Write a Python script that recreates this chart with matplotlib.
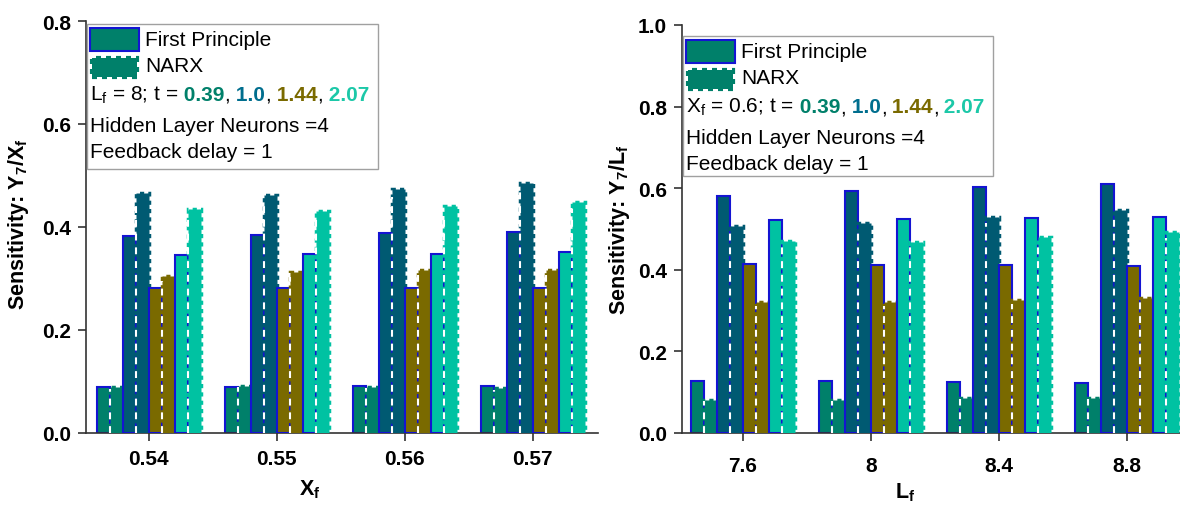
import matplotlib
matplotlib.use("Agg")
import matplotlib.pyplot as plt
import numpy as np
from matplotlib.patches import Rectangle

plt.rcParams['font.family'] = ['Liberation Sans', 'DejaVu Sans']
plt.rcParams['mathtext.fontset'] = 'custom'
plt.rcParams['mathtext.rm'] = 'Liberation Sans'
plt.rcParams['mathtext.it'] = 'Liberation Sans:italic'
plt.rcParams['mathtext.bf'] = 'Liberation Sans:bold'

# data
t_labels = ["0.39", "1.0", "1.44", "2.07"]
bar_colors = ["#00806A", "#005A72", "#7A6A00", "#00C2A2"]
text_colors = ["#00806A", "#006E8E", "#7A6A00", "#1CC8A8"]

xf_cats = ["0.54", "0.55", "0.56", "0.57"]
fp_xf = [[0.090, 0.090, 0.092, 0.091],
         [0.382, 0.385, 0.389, 0.391],
         [0.282, 0.282, 0.282, 0.282],
         [0.346, 0.347, 0.348, 0.351]]
narx_xf = [[0.089, 0.092, 0.090, 0.087],
           [0.466, 0.462, 0.473, 0.486],
           [0.304, 0.313, 0.316, 0.317],
           [0.434, 0.432, 0.440, 0.448]]

lf_cats = ["7.6", "8", "8.4", "8.8"]
fp_lf = [[0.128, 0.127, 0.125, 0.123],
         [0.582, 0.593, 0.602, 0.611],
         [0.414, 0.412, 0.411, 0.409],
         [0.521, 0.524, 0.526, 0.529]]
narx_lf = [[0.081, 0.082, 0.085, 0.085],
           [0.508, 0.514, 0.530, 0.547],
           [0.322, 0.321, 0.325, 0.330],
           [0.470, 0.469, 0.481, 0.492]]

W, H = 1180, 506
EDGE_BLUE = "#1414D2"
FS = 15

fig = plt.figure(figsize=(W / 100, H / 100), dpi=100)
ax1 = fig.add_axes([86 / W, 72 / H, 512 / W, 412 / H])
ax2 = fig.add_axes([682 / W, 72 / H, 498 / W, 408 / H])


def draw_bars(ax, cats, fp, narx):
    w = 0.1015
    x = np.arange(len(cats))
    for i in range(4):
        c = bar_colors[i]
        xfp = x + (2 * i - 3.5) * w
        xn = x + (2 * i + 1 - 3.5) * w
        ax.bar(xfp, fp[i], width=w, color=c, edgecolor=EDGE_BLUE,
               linewidth=1.5, zorder=2 + 2 * i)
        ax.bar(xn, narx[i], width=w, color=c, edgecolor=c, linewidth=2.5,
               linestyle=(0, (1.2, 1.2)), zorder=3 + 2 * i)
        ax.vlines(xn - w / 2, 0, np.array(narx[i]) * 0.97, colors="white",
                  linestyles=(0, (3.3, 3.3)), linewidth=1.5, zorder=3 + 2 * i)
    ax.set_xticks(x)
    ax.set_xticklabels(cats, fontsize=FS, fontweight="bold")


def style_axes(ax, ymax, xlim):
    ax.set_ylim(0, ymax)
    ax.set_xlim(*xlim)
    yt = np.arange(0, ymax + 0.01, 0.2)
    ax.set_yticks(yt)
    ax.set_yticklabels(["%.1f" % v for v in yt], fontsize=FS, fontweight="bold")
    for s in ["top", "right"]:
        ax.spines[s].set_visible(False)
    for s in ["left", "bottom"]:
        ax.spines[s].set_color("#333333")
        ax.spines[s].set_linewidth(1.2)
    ax.tick_params(axis="y", direction="out", length=6, width=1.2, pad=5, colors="#333333")
    ax.tick_params(axis="x", direction="out", length=5.5, width=1.2, colors="#333333")
    for lab in ax.get_xticklabels() + ax.get_yticklabels():
        lab.set_color("black")


draw_bars(ax1, xf_cats, fp_xf, narx_xf)
draw_bars(ax2, lf_cats, fp_lf, narx_lf)
style_axes(ax1, 0.8, (-0.49, 3.51))
style_axes(ax2, 1.0, (-0.477, 3.414))
ax1.tick_params(axis="x", pad=6)
ax2.tick_params(axis="x", pad=11)

ax1.set_ylabel(r"Sensitivity: Y$_\mathbf{7}$/X$_\mathbf{f}$", fontsize=15.5, fontweight="bold")
ax1.yaxis.set_label_coords(-0.108, 0.51)
ax2.set_ylabel(r"Sensitivity: Y$_\mathbf{7}$/L$_\mathbf{f}$", fontsize=15.5, fontweight="bold")
ax2.yaxis.set_label_coords(-0.100, 0.5)
ax1.set_xlabel(r"X$_\mathbf{f}$", fontsize=15.5, fontweight="bold")
ax1.xaxis.set_label_coords(0.4375, -0.107)
ax2.set_xlabel(r"L$_\mathbf{f}$", fontsize=15.5, fontweight="bold")
ax2.xaxis.set_label_coords(0.448, -0.115)


def fx(px):
    return px / W


def fy(py):
    return 1 - py / H


def draw_legend(left, top, bw, bh, prefix):
    fig.add_artist(Rectangle((fx(left), fy(top + bh)), bw / W, bh / H,
                             transform=fig.transFigure, facecolor="white",
                             edgecolor="#a0a0a0", linewidth=1, zorder=20))
    fig.add_artist(Rectangle((fx(left + 3), fy(top + 27)), 49 / W, 23 / H,
                             transform=fig.transFigure, facecolor=bar_colors[0],
                             edgecolor=EDGE_BLUE, linewidth=1.5, zorder=21))
    fig.add_artist(Rectangle((fx(left + 5), fy(top + 53)), 45 / W, 19 / H,
                             transform=fig.transFigure, facecolor=bar_colors[0],
                             edgecolor=bar_colors[0], linewidth=3,
                             linestyle=(0, (1.2, 1.2)), zorder=21))
    fig.text(fx(left + 58), fy(top + 16), "First Principle", fontsize=FS,
             va="center", zorder=22)
    fig.text(fx(left + 58), fy(top + 42), "NARX", fontsize=FS,
             va="center", zorder=22)
    fig.text(fx(left + 3), fy(top + 101), "Hidden Layer Neurons =4", fontsize=FS,
             va="center", zorder=22)
    fig.text(fx(left + 3), fy(top + 127), "Feedback delay = 1", fontsize=FS,
             va="center", zorder=22)
    # multi-coloured line
    renderer = fig.canvas.get_renderer()
    pieces = [(prefix, "black", "normal")]
    for i, t in enumerate(t_labels):
        pieces.append((" " + t, text_colors[i], "bold"))
        if i < len(t_labels) - 1:
            pieces.append((",", "black", "normal"))
    xpx = left + 3
    for txt, col, wt in pieces:
        t = fig.text(fx(xpx), fy(top + 76), txt, fontsize=FS, color=col,
                     fontweight=wt, va="baseline", zorder=22)
        bb = t.get_window_extent(renderer)
        xpx += bb.width


draw_legend(87, 25, 291, 145, r"L$_\mathrm{f}$ = 8; t =")
draw_legend(683, 37, 310, 140, r"X$_\mathrm{f}$ = 0.6; t =")

fig.savefig("out.png", dpi=100)
